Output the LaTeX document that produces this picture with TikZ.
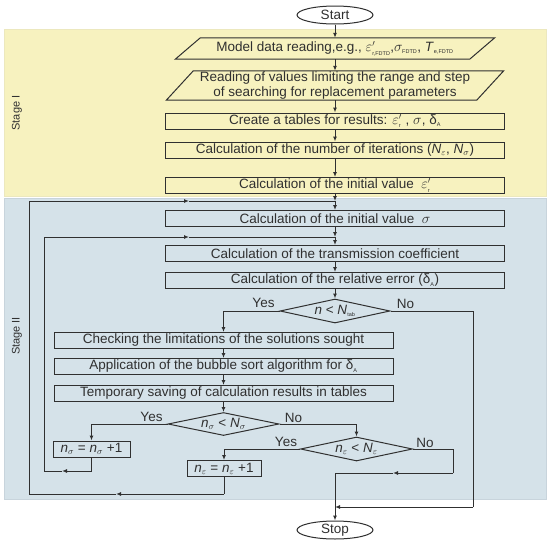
\documentclass[tikz,border=0pt]{standalone}
\usepackage{fontspec}
\setmainfont{Liberation Sans}
\usetikzlibrary{arrows.meta,shapes.geometric,calc}
\definecolor{bandI}{RGB}{247,242,191}
\definecolor{bandII}{RGB}{213,226,233}
\definecolor{bandIline}{RGB}{236,232,190}
\definecolor{bandIIline}{RGB}{200,212,220}
\definecolor{ink}{RGB}{48,48,48}
\newcommand\sbs[1]{\textsubscript{\fontsize{5.5}{6}\selectfont #1}}
\newcommand\tsb[1]{\mbox{\fontsize{5.5}{6}\selectfont #1}}
\begin{document}
\begin{tikzpicture}[x=1pt,y=-1pt,
  font=\fontsize{13.5}{14.5}\selectfont,
  every node/.style={text=ink},
  flowbox/.style={draw=ink, line width=1pt, rectangle, minimum width=339pt, minimum height=16pt, inner sep=0pt},
  smallbox/.style={draw=ink, line width=1pt, rectangle, minimum height=16pt, inner sep=0pt},
  parabody/.style={rectangle, inner sep=0pt},
  decision/.style={draw=ink, line width=1pt, diamond, aspect=4.6, inner sep=0pt},
  term/.style={draw=ink, line width=1pt, ellipse, minimum width=76pt, minimum height=18pt, inner sep=0pt},
  conn/.style={draw=ink, line width=1pt, -{Latex[length=5pt,width=4pt]}},
  plain/.style={draw=ink, line width=1pt},
  lbl/.style={inner sep=0pt},
  stagelbl/.style={rotate=90, inner sep=0pt, font=\fontsize{11}{12}\selectfont}
]
\useasboundingbox (0,0) rectangle (550,544);
\fill[white] (0,0) rectangle (550,544);
% bands
\filldraw[fill=bandI, draw=bandIline, line width=0.8pt] (4,29) rectangle (546,196);
\filldraw[fill=bandII, draw=bandIIline, line width=0.8pt] (4,198) rectangle (546,499);
\node[stagelbl] (stageI) at (17,113) {Stage I};
\node[stagelbl] (stageII) at (17,336) {Stage II};

% terminals
\node[term] (start) at (335,15) {Start};
\node[term] (stop) at (335,530) {Stop};

% parallelograms
\node[parabody, minimum width=294pt, minimum height=21pt] (model) at (335,48.5)
  {Model data reading,e.g., $\varepsilon'_{\tsb{r,FDTD}}$,$\sigma_{\tsb{FDTD}}$, \textit{T}$_{\tsb{e,FDTD}}$};
\draw[plain] ($(model.south west)+(-12.5,0)$) -- ($(model.south east)+(-12.5,0)$)
  -- ($(model.north east)+(12.5,0)$) -- ($(model.north west)+(12.5,0)$) -- cycle;
\node[parabody, minimum width=310pt, minimum height=29pt, align=center] (reading) at (335,85.5)
  {Reading of values limiting the range and step\\of searching for replacement parameters};
\draw[plain] ($(reading.south west)+(-13.5,0)$) -- ($(reading.south east)+(-13.5,0)$)
  -- ($(reading.north east)+(13.5,0)$) -- ($(reading.north west)+(13.5,0)$) -- cycle;

% main column
\node[flowbox] (create) at (335,121) {Create a tables for results: $\varepsilon'_{\tsb{r}}$ , $\sigma$, δ\sbs{A}};
\node[flowbox] (number) at (335,150) {Calculation of the number of iterations (\textit{N}$_\varepsilon$, \textit{N}$_\sigma$)};
\node[flowbox] (initeps) at (335,185.5) {Calculation of the initial value \ $\varepsilon'_{\tsb{r}}$};
\coordinate (j1) at (335,201);
\node[flowbox] (initsig) at (335,218.5) {Calculation of the initial value \ $\sigma$};
\coordinate (j2) at (335,237);
\node[flowbox] (trans) at (335,253.5) {Calculation of the transmission coefficient};
\node[flowbox] (relerr) at (335,280.5) {Calculation of the relative error (δ\sbs{A})};
\node[decision, minimum width=110pt, minimum height=24pt] (ntab) at (335,311) {\textit{n} < \textit{N}\sbs{tab}};

% left column
\node[flowbox] (check) at (223.5,340.5) {Checking the limitations of the solutions sought};
\node[flowbox] (bubble) at (223.5,366.5) {Application of the bubble sort algorithm for δ\sbs{A}};
\node[flowbox] (temp) at (223.5,393.5) {Temporary saving of calculation results in tables};
\node[decision, minimum width=111pt, minimum height=23pt] (nsig) at (223.5,424) {\textit{n}$_\sigma$ < \textit{N}$_\sigma$};
\node[smallbox, minimum width=77pt] (nsigbox) at (91.5,449) {\textit{n}$_\sigma$ = \textit{n}$_\sigma$ +1};
\node[decision, minimum width=112pt, minimum height=24pt] (neps) at (356.5,449) {\textit{n}$_\varepsilon$ < \textit{N}$_\varepsilon$};
\node[smallbox, minimum width=74pt] (nepsbox) at (224,468.5) {\textit{n}$_\varepsilon$ = \textit{n}$_\varepsilon$ +1};

% labels
\node[lbl] (yes1) at ($(ntab.west)+(-16,-8)$) {Yes};
\node[lbl] (no1) at ($(ntab.east)+(15,-7)$) {No};
\node[lbl] (yes2) at ($(nsig.west)+(-16,-7)$) {Yes};
\node[lbl] (no2) at ($(nsig.east)+(14,-6)$) {No};
\node[lbl] (yes3) at ($(neps.west)+(-14,-7)$) {Yes};
\node[lbl] (no3) at ($(neps.east)+(12,-6)$) {No};

% straight flow
\draw[conn] (start.south) -- (model.north);
\draw[conn] (model.south) -- (reading.north);
\draw[conn] (reading.south) -- (create.north);
\draw[conn] (create) -- (number);
\draw[conn] (number) -- (initeps);
\draw[conn] (initeps) -- (j1);
\draw[conn] (j1) -- (initsig);
\draw[conn] (initsig) -- (j2);
\draw[conn] (j2) -- (trans);
\draw[conn] (trans) -- (relerr);
\draw[conn] (relerr) -- (ntab);
\draw[conn] (ntab.west) -| (check.north);
\draw[conn] (check) -- (bubble);
\draw[conn] (bubble) -- (temp);
\draw[conn] (temp) -- (nsig);
\draw[conn] (nsig.west) -| (nsigbox.north);
\draw[conn] (nsig.east) -| (neps.north);
\draw[conn] (neps.west) -| (nepsbox.north);

% n < Ntab : No
\coordinate (c1) at (473,311);
\coordinate (c2) at (473,507);
\coordinate (c3) at (335,507);
\draw[plain] (ntab.east) -- (c1) -- (c2);
\draw[conn] (c2) -- (c3);

% n_eps < N_eps : No
\coordinate (d1) at (453,449);
\coordinate (d2) at (453,473);
\coordinate (d3) at (393,473);
\coordinate (d4) at (335,473);
\draw[plain] (neps.east) -- (d1) -- (d2);
\draw[conn] (d2) -- (d3);
\draw[plain] (d3) -- (d4);
\draw[conn] (d4) -- (stop.north);

% loop n_sigma
\coordinate (e1) at (91.5,471);
\coordinate (e2) at (62,471);
\coordinate (e3) at (44,471);
\coordinate (e4) at (44,237);
\coordinate (e5) at (189,237);
\draw[plain] (nsigbox.south) -- (e1);
\draw[conn] (e1) -- (e2);
\draw[plain] (e2) -- (e3) -- (e4);
\draw[conn] (e4) -- (e5);
\draw[plain] (e5) -- (j2);

% loop n_eps
\coordinate (f1) at (224,494);
\coordinate (f2) at (116,494);
\coordinate (f3) at (29,494);
\coordinate (f4) at (29,201);
\coordinate (f5) at (189,201);
\draw[plain] (nepsbox.south) -- (f1);
\draw[conn] (f1) -- (f2);
\draw[plain] (f2) -- (f3) -- (f4);
\draw[conn] (f4) -- (f5);
\draw[plain] (f5) -- (j1);
\end{tikzpicture}
\end{document}
